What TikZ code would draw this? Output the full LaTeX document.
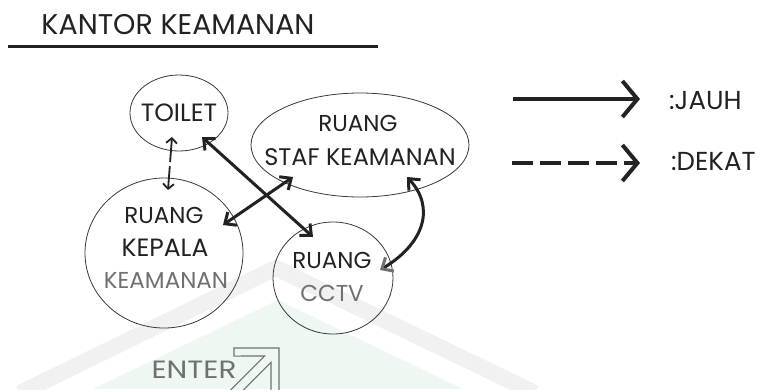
\documentclass[tikz,border=0pt]{standalone}
\usepackage{fontspec}
\setmainfont{Poppins}
\usetikzlibrary{arrows.meta,shapes.geometric,calc}
\definecolor{ink}{HTML}{222222}
\definecolor{soft}{HTML}{707070}
\definecolor{wmgray}{HTML}{F1F1F1}
\definecolor{wmgreen}{HTML}{EEF7F1}
\newcommand{\fs}[1]{\fontsize{#1}{#1}\selectfont}
\begin{document}
\begin{tikzpicture}[x=1pt,y=-1pt,
  room/.style={ellipse,draw=ink!90,line width=0.8pt,inner sep=0pt},
  lbl/.style={inner sep=0pt,text=ink,font=\fs{23}},
  lblsoft/.style={lbl,text=soft},
  far/.style={draw=ink,line width=3pt,{Straight Barb[length=9pt,width=16pt]}-{Straight Barb[length=9pt,width=16pt]}},
  near/.style={draw=ink,line width=1.8pt,dash pattern=on 23pt off 4pt,{Straight Barb[length=5pt,width=11pt]}-{Straight Barb[length=5pt,width=11pt]}},
  legendtip/.style={-{Straight Barb[length=15pt,width=36pt]}},
]
\useasboundingbox (0,0) rectangle (764,389);
\fill[white] (0,0) rectangle (764,389);
% watermark
\fill[wmgreen] (93,389) -- (278,300) -- (463,389) -- cycle;
\draw[wmgray,line width=16pt] (20,393) -- (276,268) -- (535,393);
% title
\node[inner sep=0pt,text=ink,font=\fs{28.5}] (title) at (178,25) {KANTOR KEAMANAN};
\coordinate (ruleL) at (8,46);
\coordinate (ruleR) at (378,46);
\draw[ink,line width=3pt] (ruleL) -- (ruleR);
% rooms
\node[room,minimum width=98pt,minimum height=76pt] (toilet) at (179,113) {};
\node[room,minimum width=218pt,minimum height=104pt] (staf) at (360,145) {};
\node[room,minimum width=158pt,minimum height=150pt] (kepala) at (164,253) {};
\node[room,minimum width=120pt,minimum height=112pt] (cctv) at (333,278) {};
% labels
\node[lbl,font=\fs{25}] (tl) at (179,113) {TOILET};
\node[lbl] (s1) at (358,123) {RUANG};
\node[lbl,font=\fs{24}] (s2) at (360,157) {STAF KEAMANAN};
\node[lbl] (k1) at (164,215) {RUANG};
\node[lbl,font=\fs{25}] (k2) at (165,248) {KEPALA};
\node[lblsoft] (k3) at (166,280) {KEAMANAN};
\node[lbl] (c1) at (332,260) {RUANG};
\node[lblsoft] (c2) at (332,293) {CCTV};
% connectors
\draw[near] ($(toilet.center)+(-7,24)$) -- ($(kepala.center)+(4,-63)$);
\draw[far] ($(toilet.center)+(23,24)$) -- ($(cctv.center)+(-20,-41)$);
\draw[far] ($(staf.center)+(-67,32)$) -- ($(kepala.center)+(59,-28)$);
\draw[draw=ink,line width=3pt,{Straight Barb[length=9pt,width=16pt]}-{Straight Barb[length=9pt,width=16pt,color=soft]}]
  ($(staf.center)+(47,32)$) .. controls ($(staf.center)+(75,62)$) and ($(cctv.center)+(92,-35)$) .. ($(cctv.center)+(47,-8)$);
% legend
\coordinate (j1) at (513,99);
\coordinate (j2) at (640,99);
\coordinate (d1) at (512,163);
\coordinate (d2) at (640,163);
\draw[ink,line width=4pt,legendtip] (j1) -- (j2);
\draw[ink,line width=4pt,dash pattern=on 21pt off 7pt,legendtip] (d1) -- (d2);
\node[lbl,anchor=west,font=\fs{26}] (jauh) at (669,101) {:JAUH};
\node[lbl,anchor=west,font=\fs{26}] (dekat) at (671,161) {:DEKAT};
% enter
\node[lblsoft,font=\fs{25}] (enter) at (194,370) {\scalebox{1.18}[1]{ENTER}};
\begin{scope}[shift={(279,348)},rotate=45]
\draw[soft,line width=1.1pt,line join=miter] (0,0) -- (-31.8,31.8) -- (-37.5,26.1) -- (-15.8,4.5) -- (-70,4.5) -- (-70,-4.5) -- (-15.8,-4.5) -- (-37.5,-26.1) -- (-31.8,-31.8) -- cycle;
\end{scope}
\end{tikzpicture}
\end{document}
